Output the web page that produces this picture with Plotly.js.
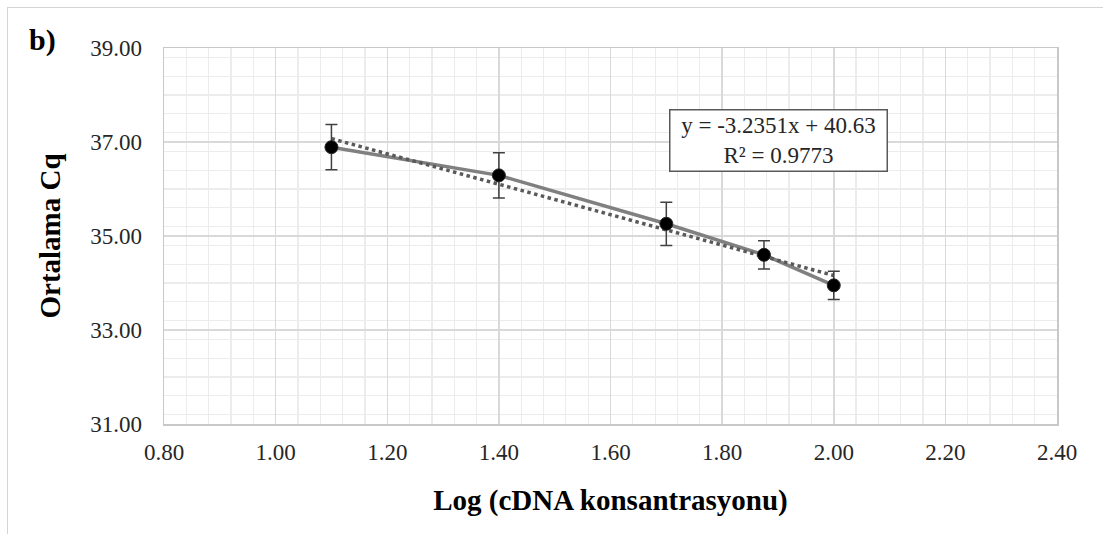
<!DOCTYPE html>
<html>
<head>
<meta charset="utf-8">
<script src="https://cdn.plot.ly/plotly-3.0.1.min.js"></script>
<style>
  html, body { margin: 0; padding: 0; background: #ffffff; }
  #wrap { position: relative; width: 1103px; height: 534px; overflow: hidden; }
  #frame { position: absolute; left: 7px; top: 7px; width: 1200px; height: 600px;
           border-top: 1.5px solid #d4d4d4; border-left: 1.5px solid #d4d4d4; pointer-events: none; }
  #chart { position: absolute; left: 0; top: 0; width: 1103px; height: 534px; }
</style>
</head>
<body>
<div id="wrap">
  <div id="chart"></div>
  <div id="frame"></div>
</div>
<script>
// ---- data ----
const logConc = [1.10, 1.40, 1.70, 1.875, 2.00];
const meanCq = [36.89, 36.29, 35.26, 34.60, 33.95];
const errCq = [0.48, 0.48, 0.46, 0.30, 0.30];
const slope = -3.2351;
const intercept = 40.63;
const r2 = 0.9773;
const panelLabel = "b)";
const xTitle = "Log (cDNA konsantrasyonu)";
const yTitle = "Ortalama Cq";

const serif = "Liberation Serif, Times New Roman, serif";

// trendline over the data range, from the displayed equation
const xMin = Math.min(...logConc), xMax = Math.max(...logConc);
const trendX = [xMin, xMax];
const trendY = trendX.map(x => slope * x + intercept);

const traces = [
  {
    x: logConc, y: meanCq, type: "scatter", mode: "lines",
    line: { color: "#808080", width: 3.5 },
    hoverinfo: "skip", showlegend: false
  },
  {
    x: trendX, y: trendY, type: "scatter", mode: "lines",
    line: { color: "#595959", width: 3.5, dash: "dot" },
    hoverinfo: "skip", showlegend: false
  },
  {
    x: logConc, y: meanCq, type: "scatter", mode: "markers",
    marker: { color: "#000000", size: 13, line: { color: "#262626", width: 1 } },
    error_y: { type: "data", array: errCq, visible: true, color: "#404040", thickness: 1.5, width: 6 },
    showlegend: false
  }
];

const layout = {
  width: 1103, height: 534,
  margin: { l: 164, r: 46, t: 48, b: 110 },
  paper_bgcolor: "#ffffff", plot_bgcolor: "#ffffff",
  font: { family: serif, size: 23, color: "#262626" },
  showlegend: false,
  xaxis: {
    range: [0.8, 2.4], dtick: 0.2, tick0: 0.8, tickformat: ".2f",
    showgrid: true, gridcolor: "#d9d9d9", gridwidth: 1.5,
    minor: { dtick: 0.04, showgrid: true, gridcolor: "#ececec", gridwidth: 1.2 },
    showline: true, linecolor: "#c8c8c8", linewidth: 1.5, mirror: true,
    zeroline: false, ticks: "",
    ticklabelstandoff: 7,
    tickfont: { family: serif, size: 23, color: "#262626" },
    title: { text: xTitle, standoff: 25, font: { family: serif, size: 29, color: "#000000", weight: "bold" } }
  },
  yaxis: {
    range: [31, 39], dtick: 2, tick0: 31, tickformat: ".2f",
    showgrid: true, gridcolor: "#d9d9d9", gridwidth: 1.5,
    minor: { dtick: 0.4, showgrid: true, gridcolor: "#ececec", gridwidth: 1.2 },
    showline: true, linecolor: "#c8c8c8", linewidth: 1.5, mirror: true,
    zeroline: false, ticks: "",
    ticklabelstandoff: 16,
    tickfont: { family: serif, size: 23, color: "#262626" },
    title: { text: yTitle, standoff: 21, font: { family: serif, size: 29, color: "#000000", weight: "bold" } }
  },
  annotations: [
    {
      xref: "paper", yref: "paper", x: -0.1534, y: 1.0213,
      xanchor: "left", yanchor: "middle", showarrow: false,
      text: panelLabel,
      font: { family: serif, size: 30, color: "#000000", weight: "bold" }
    },
    {
      xref: "paper", yref: "paper", x: 0.6885, y: 0.755,
      xanchor: "center", yanchor: "middle", showarrow: false,
      text: "y = " + slope.toFixed(4) + "x + " + intercept.toFixed(2) + "<br>R² = " + r2.toFixed(4),
      align: "center",
      width: 214, height: 58,
      bordercolor: "#595959", borderwidth: 1.5, borderpad: 1,
      bgcolor: "#ffffff",
      font: { family: serif, size: 23, color: "#262626" }
    }
  ]
};

Plotly.newPlot("chart", traces, layout, { displayModeBar: false, staticPlot: true });
</script>
</body>
</html>
